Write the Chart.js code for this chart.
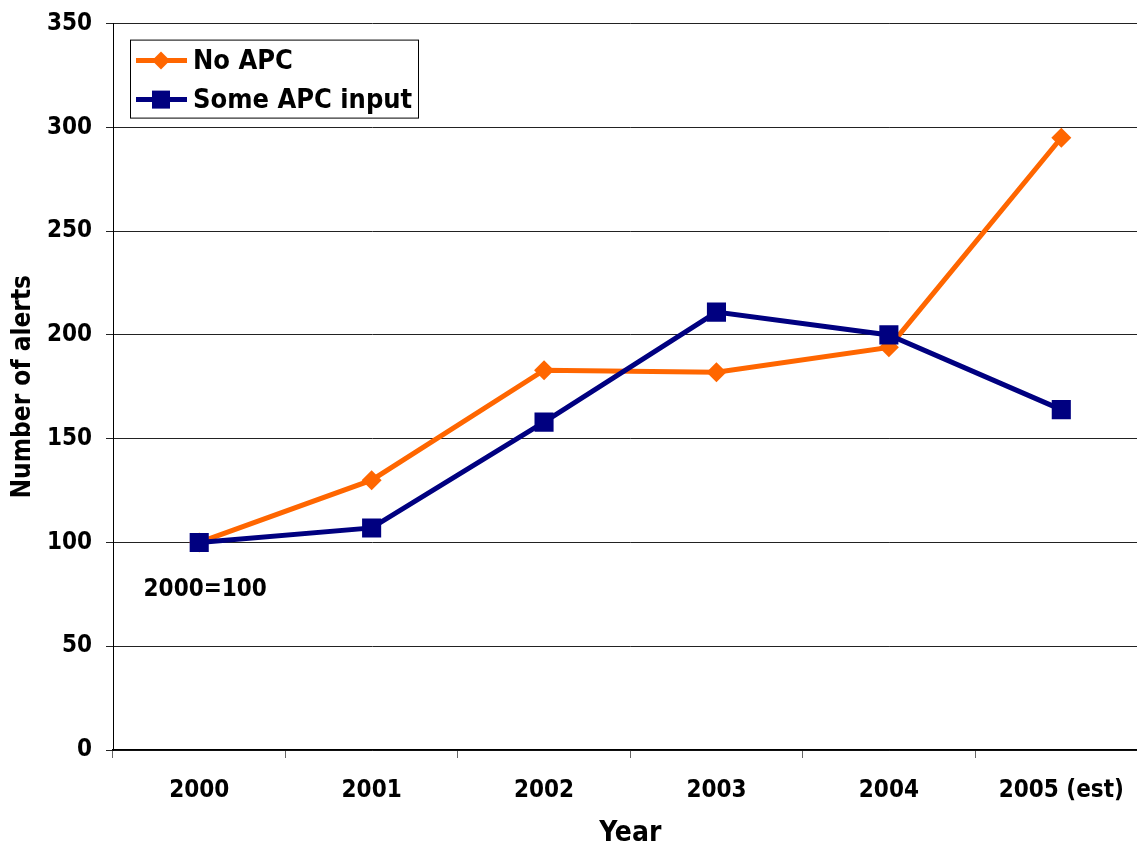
<!DOCTYPE html>
<html>
<head>
<meta charset="utf-8">
<script src="https://cdn.jsdelivr.net/npm/chart.js@4/dist/chart.umd.min.js"></script>
<style>
  html, body { margin: 0; padding: 0; overflow: hidden; background: #fff; }
  #wrap { position: absolute; left: 0; top: 0; width: 1161px; height: 845px; }
</style>
</head>
<body>
<div id="wrap"><canvas id="c"></canvas></div>
<script>
// Alerts index (2000 = 100)
const years = ['2000', '2001', '2002', '2003', '2004', '2005 (est)'];
const noApc = [100, 130, 183, 182, 194, 295];
const someApc = [100, 107, 158, 211, 200, 164];
const yTicks = [0, 50, 100, 150, 200, 250, 300, 350];
const seriesNames = ['No APC', 'Some APC input'];
const baseNote = '2000=100';

const FONT = '"DejaVu Sans Condensed", Lato, sans-serif';
const WEIGHT = 'bold';
Chart.defaults.font.family = FONT;
Chart.defaults.font.weight = WEIGHT;
Chart.defaults.font.size = 24;
Chart.defaults.color = '#000';

// Boxed legend in the upper-left of the plot area, plus the base-year note
const overlay = {
  id: 'overlay',
  afterDatasetsDraw(chart) {
    const { ctx, chartArea, scales } = chart;
    const x0 = chartArea.left + 17, y0 = chartArea.top + 16;
    const w = 288, h = 78;
    ctx.save();
    ctx.fillStyle = '#fff';
    ctx.fillRect(x0, y0, w, h);
    ctx.strokeStyle = '#000';
    ctx.lineWidth = 1;
    ctx.strokeRect(x0 + 0.5, y0 + 0.5, w, h);
    chart.data.datasets.forEach((ds, i) => {
      const cy = y0 + 21 + i * 39;
      const cx = x0 + 31;
      ctx.strokeStyle = ds.borderColor;
      ctx.lineWidth = 5;
      ctx.beginPath();
      ctx.moveTo(x0 + 6, cy);
      ctx.lineTo(x0 + 57, cy);
      ctx.stroke();
      ctx.fillStyle = ds.borderColor;
      if (ds.pointStyle === 'rectRot') {
        ctx.beginPath();
        ctx.moveTo(cx - 9, cy); ctx.lineTo(cx, cy - 9);
        ctx.lineTo(cx + 9, cy); ctx.lineTo(cx, cy + 9);
        ctx.closePath();
        ctx.fill();
      } else {
        ctx.fillRect(cx - 9, cy - 9, 18, 18);
      }
      ctx.fillStyle = '#000';
      ctx.font = WEIGHT + ' 27px ' + FONT;
      ctx.textAlign = 'left';
      ctx.textBaseline = 'middle';
      ctx.fillText(ds.label, x0 + 63, cy + 1);
    });
    // base-year note below the first point
    ctx.fillStyle = '#000';
    ctx.font = WEIGHT + ' 24px ' + FONT;
    ctx.textAlign = 'center';
    ctx.textBaseline = 'middle';
    ctx.fillText(baseNote, scales.x.getPixelForValue(0) + 6, scales.y.getPixelForValue(77));
    ctx.restore();
  }
};

new Chart(document.getElementById('c'), {
  type: 'line',
  data: {
    labels: years,
    datasets: [
      {
        label: seriesNames[0],
        data: noApc,
        borderColor: '#FF6600',
        backgroundColor: '#FF6600',
        borderWidth: 5,
        pointStyle: 'rectRot',
        pointRadius: 10,
        pointBorderWidth: 0,
        tension: 0,
        order: 2
      },
      {
        label: seriesNames[1],
        data: someApc,
        borderColor: '#000080',
        backgroundColor: '#000080',
        borderWidth: 5,
        pointStyle: 'rect',
        pointRadius: 13.5,
        pointBorderWidth: 0,
        tension: 0,
        order: 1
      }
    ]
  },
  options: {
    responsive: true,
    maintainAspectRatio: false,
    animation: false,
    devicePixelRatio: 1,
    layout: { padding: { top: 23.6, right: 3, left: 0, bottom: 0 } },
    plugins: {
      legend: { display: false },
      tooltip: { enabled: false }
    },
    scales: {
      x: {
        offset: true,
        grid: {
          offset: true,
          drawOnChartArea: false,
          drawTicks: true,
          tickLength: 8,
          color: '#666',
          lineWidth: 1
        },
        border: { color: '#000', width: 1.5 },
        ticks: { padding: 18, maxRotation: 0, autoSkip: false, font: { size: 24, weight: WEIGHT } },
        title: {
          display: true,
          text: 'Year',
          font: { size: 28, weight: WEIGHT, lineHeight: 1 },
          padding: { top: 0, bottom: -3 }
        },
        afterFit(scale) { scale.height = 95; }
      },
      y: {
        min: 0,
        max: 350,
        afterBuildTicks(scale) { scale.ticks = yTicks.map(v => ({ value: v })); },
        grid: {
          color: '#222',
          lineWidth: 1,
          drawTicks: true,
          tickLength: 7
        },
        border: { color: '#000', width: 1 },
        ticks: { padding: 14, font: { size: 24, weight: WEIGHT } },
        title: {
          display: true,
          text: 'Number of alerts',
          font: { size: 26, weight: WEIGHT, lineHeight: 1 },
          padding: { top: 10, bottom: 0 }
        },
        afterFit(scale) {
          scale.width = 113;
          scale.paddingTop = 0;
        }
      }
    }
  },
  plugins: [overlay]
});
</script>
</body>
</html>
